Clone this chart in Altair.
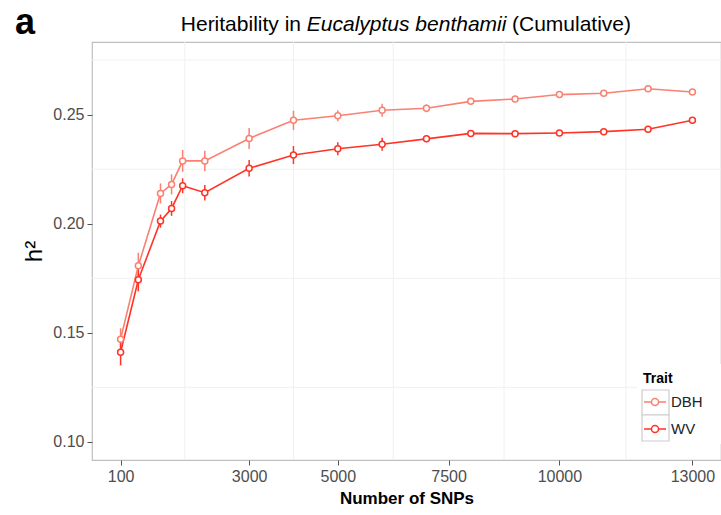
import altair as alt
import pandas as pd

# ---- data ----
snps = [100, 500, 1000, 1250, 1500, 2000, 3000, 4000, 5000, 6000, 7000,
        8000, 9000, 10000, 11000, 12000, 13000]
dbh = [0.1471, 0.1807, 0.2139, 0.2180, 0.2288, 0.2288, 0.2391, 0.2474, 0.2495,
       0.2520, 0.2529, 0.2561, 0.2572, 0.2592, 0.2598, 0.2619, 0.2604]
dbh_err = [0.0050, 0.0060, 0.0046, 0.0046, 0.0050, 0.0047, 0.0048, 0.0044, 0.0025,
           0.0030, 0.0018, 0.0015, 0.0012, 0.0010, 0.0010, 0.0010, 0.0010]
wv = [0.1411, 0.1743, 0.2012, 0.2070, 0.2174, 0.2142, 0.2254, 0.2315, 0.2344,
      0.2364, 0.2389, 0.2414, 0.2413, 0.2416, 0.2422, 0.2433, 0.2474]
wv_err = [0.0060, 0.0053, 0.0030, 0.0034, 0.0034, 0.0036, 0.0038, 0.0041, 0.0030,
          0.0030, 0.0015, 0.0012, 0.0010, 0.0010, 0.0010, 0.0010, 0.0010]
traits = ["DBH", "WV"]
trait_colors = ["#FA8072", "#FF3326"]
x_ticks = [100, 3000, 5000, 7500, 10000, 13000]
y_ticks = [0.10, 0.15, 0.20, 0.25]
x_minor = [1550, 4000, 6250, 8750, 11500]
y_minor = [0.125, 0.175, 0.225, 0.275]

rows = []
for name, vals, errs in [("DBH", dbh, dbh_err), ("WV", wv, wv_err)]:
    for s, v, e in zip(snps, vals, errs):
        rows.append({"snps": s, "h2": v, "lo": v - e, "hi": v + e, "Trait": name})
df = pd.DataFrame(rows)

FONT = "Liberation Sans"
xscale = alt.Scale(domain=[-545, 13645], nice=False, zero=False)
yscale = alt.Scale(domain=[0.0917, 0.2833], nice=False, zero=False)
color = alt.Color(
    "Trait:N",
    scale=alt.Scale(domain=traits, range=trait_colors),
    legend=alt.Legend(
        title="Trait", orient="none", legendX=549, legendY=328,
        symbolType="M-1,0L-0.32,0M0.32,0L1,0M0.32,0A0.32,0.32,0,1,1,-0.32,0A0.32,0.32,0,1,1,0.32,0",
        symbolSize=484, symbolStrokeWidth=1.5, symbolFillColor="white",
        labelFontSize=15, labelFont=FONT, labelColor="#222",
        titleFontSize=14, titleFont=FONT, titleFontWeight="bold", titleColor="black",
        rowPadding=7, labelOffset=4, titlePadding=4, padding=2,
    ),
)

xgrid = alt.Chart(pd.DataFrame({"x": x_minor})).mark_rule(
    color="#F0F0F0", strokeWidth=1).encode(x=alt.X("x:Q", scale=xscale))
ygrid = alt.Chart(pd.DataFrame({"y": y_minor})).mark_rule(
    color="#F0F0F0", strokeWidth=1).encode(y=alt.Y("y:Q", scale=yscale))

base = alt.Chart(df)
xenc = alt.X(
    "snps:Q", scale=xscale, title="Number of SNPs",
    axis=alt.Axis(values=x_ticks, grid=False, domain=False, tickColor="#555",
                  tickSize=5, labelFontSize=16, labelColor="#4D4D4D", labelFont=FONT,
                  labelPadding=3, format="d", titleFontSize=17, titleFont=FONT,
                  titleFontWeight="bold", titleColor="black", titlePadding=6,
                  labelFlush=False, labelOverlap=False),
)
yenc = alt.Y(
    "h2:Q", scale=yscale, title="h²",
    axis=alt.Axis(values=y_ticks, grid=False, domain=False, tickColor="#555",
                  tickSize=5, labelFontSize=16, labelColor="#4D4D4D", labelFont=FONT,
                  labelPadding=3, format=".2f", titleFontSize=24, titleFont=FONT,
                  titleFontWeight="normal", titleColor="black", titlePadding=6,
                  labelFlush=False, labelOverlap=False),
)

errbars = base.mark_rule(strokeWidth=1.5).encode(
    x=alt.X("snps:Q", scale=xscale),
    y=alt.Y("lo:Q", scale=yscale),
    y2="hi:Q",
    color=color,
)
lines = base.mark_line(strokeWidth=1.6).encode(x=xenc, y=yenc, color=color)
points = base.mark_point(shape="circle", filled=False, fill="white", fillOpacity=1,
                         strokeWidth=1.5, size=36, opacity=1).encode(
    x=alt.X("snps:Q", scale=xscale), y=alt.Y("h2:Q", scale=yscale), color=color)

def box(x1, x2, y1, y2, stroke=None):
    kw = {"fill": "white"}
    if stroke:
        kw.update(stroke=stroke, strokeWidth=1.2)
    return alt.Chart(pd.DataFrame({"k": [0]})).mark_rect(**kw).encode(
        x=alt.value(x1), x2=alt.value(x2), y=alt.value(y1), y2=alt.value(y2))

legend_bg = box(545, 629, 322, 402)
key1 = box(550, 577, 348, 373, stroke="#CCCCCC")
key2 = box(550, 577, 373, 399, stroke="#CCCCCC")

def txt(s, x, y, **kw):
    return alt.Chart(pd.DataFrame({"t": [s]})).mark_text(font=FONT, **kw).encode(
        text="t:N", x=alt.value(x), y=alt.value(y))

t1 = txt("Heritability in", 209, -11, fontSize=21, align="right", baseline="alphabetic", color="black")
t2 = txt("Eucalyptus benthamii", 314.6, -11, fontSize=21, fontStyle="italic", align="center",
         baseline="alphabetic", color="black")
t3 = txt("(Cumulative)", 420, -11, fontSize=21, align="left", baseline="alphabetic", color="black")
tag = txt("a", -67, -8, fontSize=36, fontWeight="bold", align="center", baseline="alphabetic",
          color="black")

chart = alt.layer(xgrid, ygrid, errbars, lines, points, legend_bg, key1, key2,
                  t1, t2, t3, tag).properties(
    width=629, height=418,
    autosize=alt.AutoSizeParams(type="none"),
    padding={"left": 92, "top": 42, "right": 0, "bottom": 55},
    background="white",
).configure_view(stroke="#BFBFBF", strokeWidth=1.2)

chart.save("out.html", embed_options={"renderer": "svg", "actions": False})
